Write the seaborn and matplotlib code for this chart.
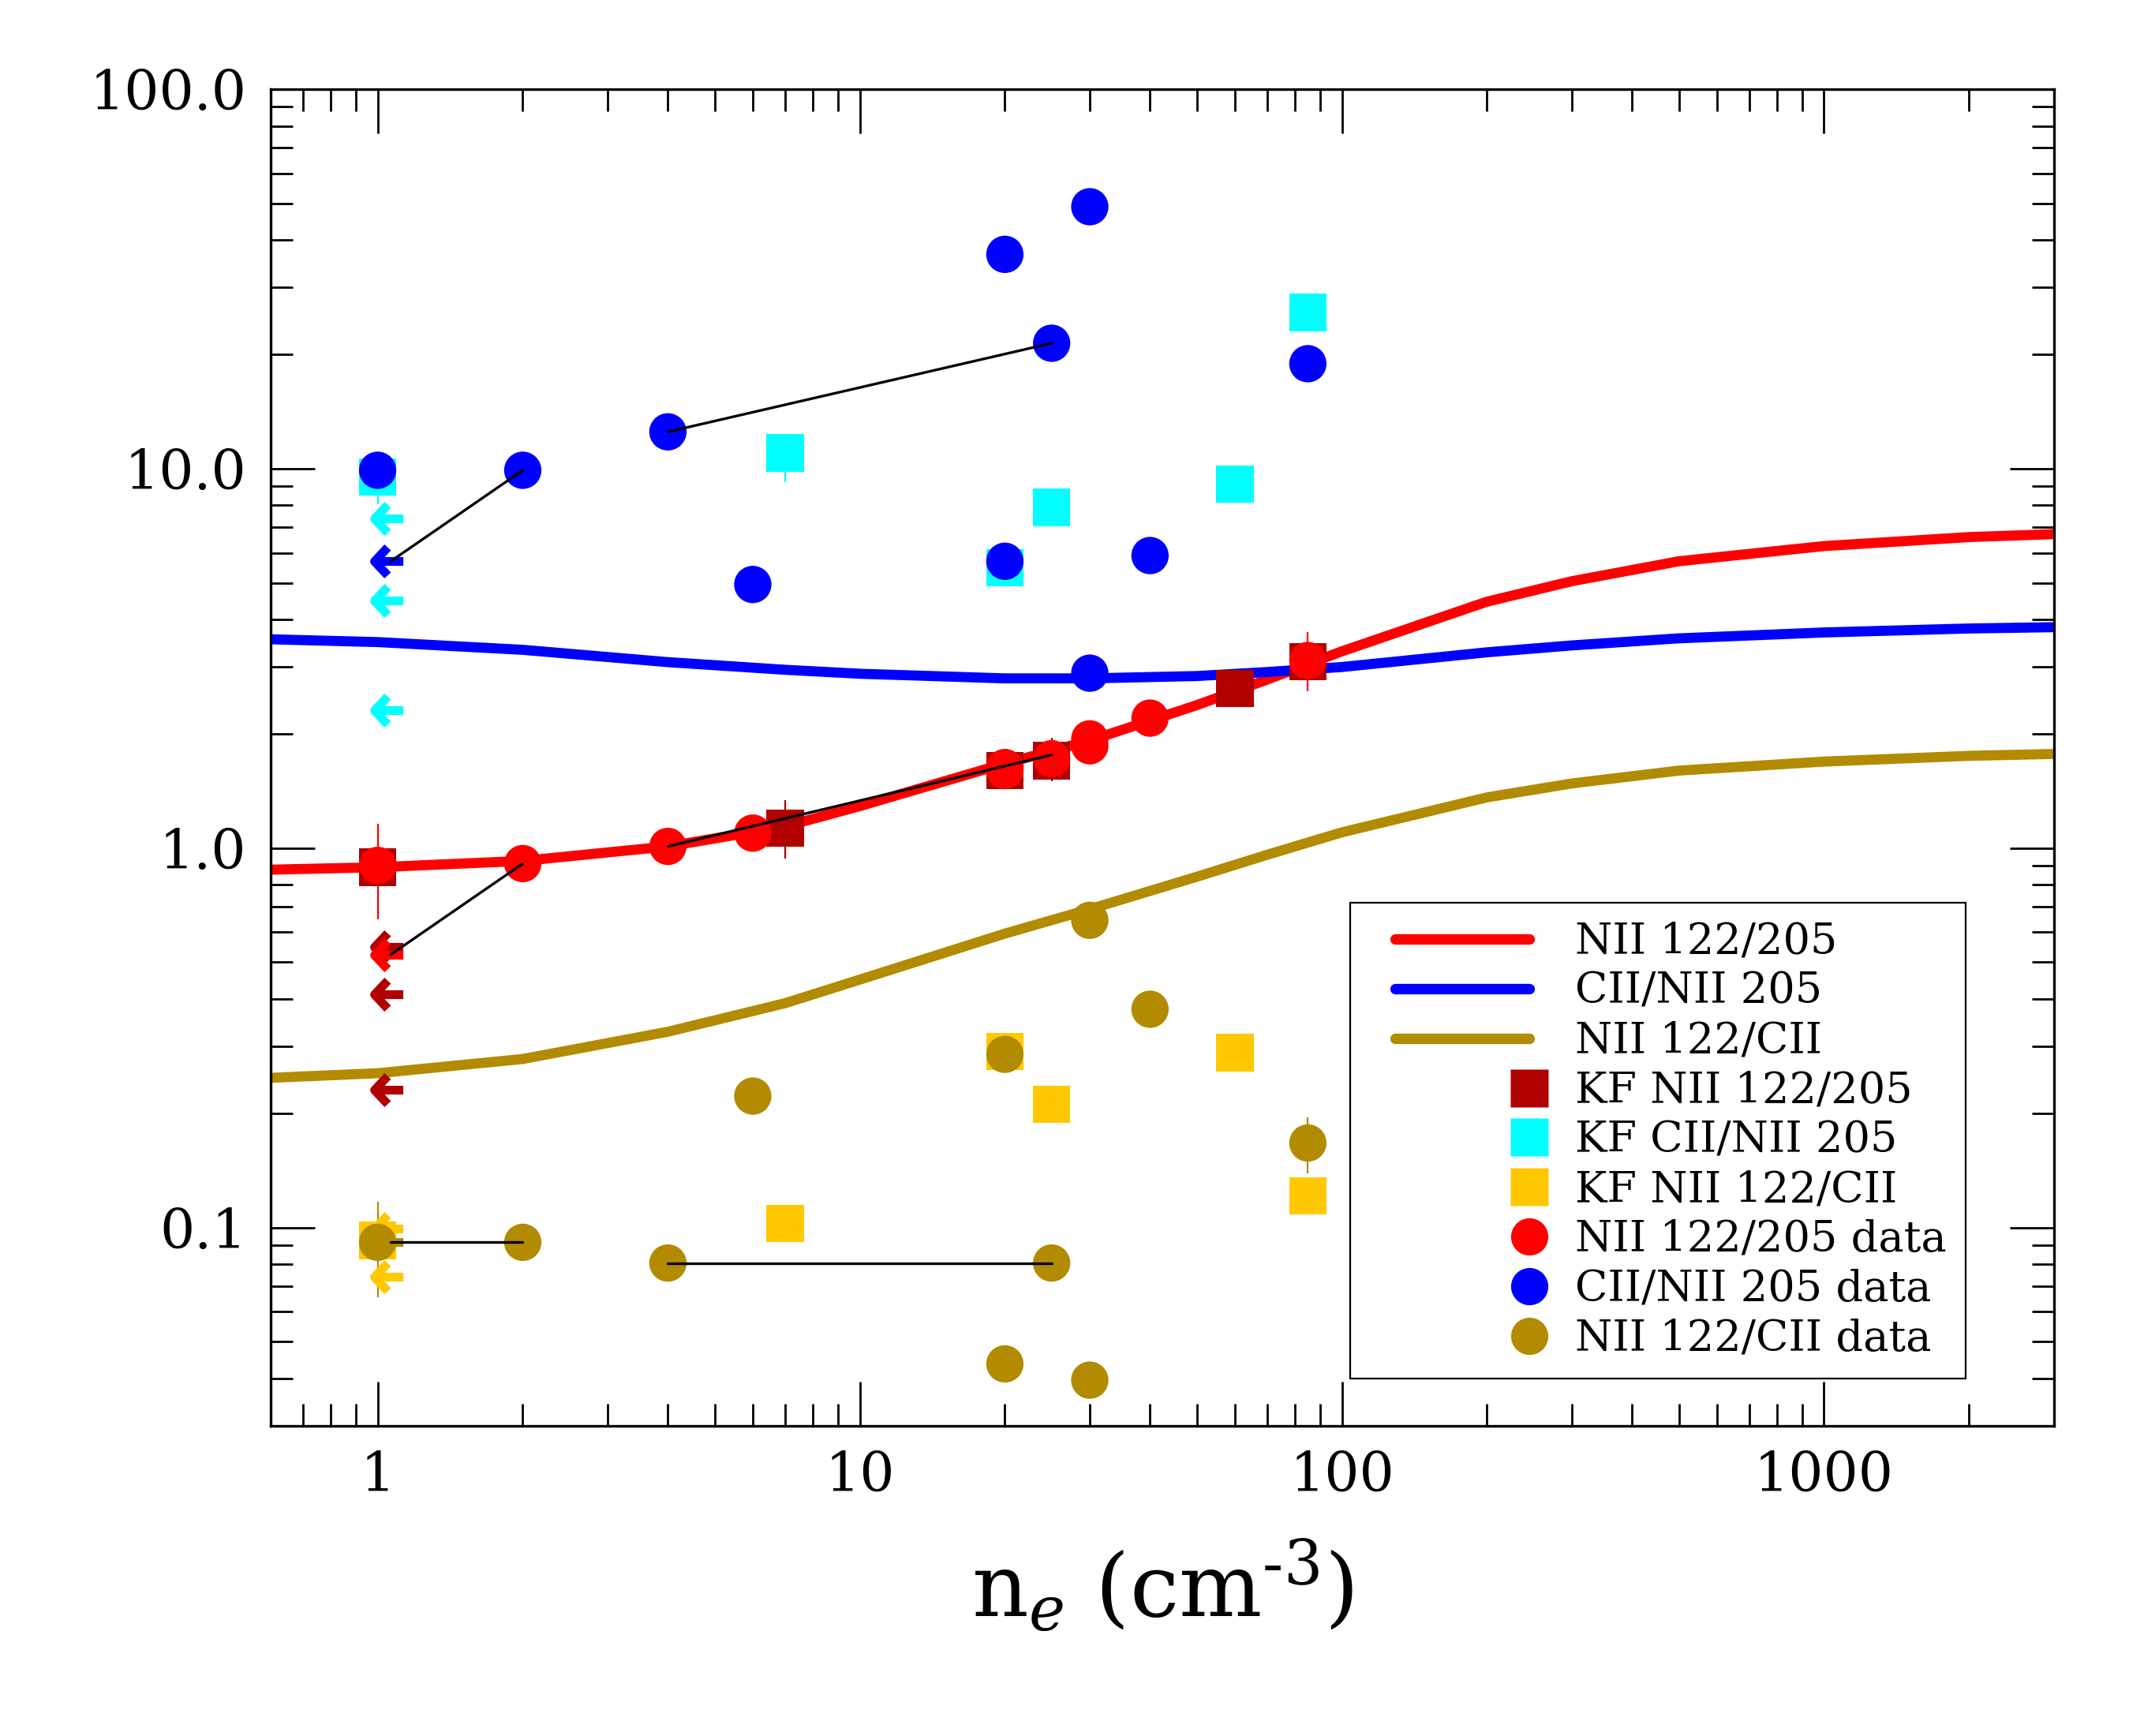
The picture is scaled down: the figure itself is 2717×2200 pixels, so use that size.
import numpy as np
import seaborn as sns
import matplotlib.pyplot as plt
from matplotlib.lines import Line2D
from matplotlib.path import Path
from matplotlib.legend_handler import HandlerLine2D
from matplotlib.ticker import FormatStrFormatter, NullFormatter

# model curves vs electron density
ne_model = [0.6, 1, 2, 4, 7, 10, 20, 30, 50, 70, 100, 200, 300, 500, 1000, 2000, 3000]
model_122_205 = [0.877, 0.89, 0.925, 1.01, 1.14, 1.29, 1.67, 1.92, 2.38, 2.78, 3.3, 4.46, 5.05, 5.7, 6.25, 6.6, 6.72]
model_cii_205 = [3.55, 3.49, 3.33, 3.09, 2.95, 2.88, 2.80, 2.80, 2.84, 2.91, 3.0, 3.28, 3.42, 3.57, 3.70, 3.79, 3.82]
model_122_cii = [0.248, 0.255, 0.278, 0.328, 0.39, 0.45, 0.595, 0.69, 0.84, 0.96, 1.10, 1.36, 1.48, 1.60, 1.69, 1.75, 1.77]

# KF measurements (squares)
kf_ne = [1, 7, 20, 25, 60, 85]
kf_122_205 = [0.89, 1.13, 1.60, 1.70, 2.63, 3.10]
kf_cii_205 = [9.5, 11.0, 5.47, 7.9, 9.1, 25.8]
kf_122_cii = [0.0924, 0.1026, 0.291, 0.211, 0.289, 0.121]
kf_122_205_lo = [np.nan, 0.94, np.nan, 1.50, np.nan, np.nan]
kf_122_205_hi = [np.nan, 1.34, np.nan, 1.95, np.nan, np.nan]
kf_cii_205_lo = [8.06, 9.2, np.nan, np.nan, np.nan, np.nan]
kf_cii_205_hi = [11.1, 11.8, np.nan, np.nan, np.nan, np.nan]

# data points (circles)
data_ne = [1, 2, 4, 6, 20, 20, 25, 30, 30, 40, 85]
data_122_205 = [0.90, 0.91, 1.01, 1.095, 1.60, 1.63, 1.72, 1.94, 1.86, 2.20, 3.12]
data_cii_205 = [9.9, 9.9, 12.5, 4.95, 36.7, 5.7, 21.4, 49.0, 2.89, 5.9, 18.9]
data_122_cii = [0.0914, 0.0914, 0.0806, 0.222, 0.0437, 0.286, 0.0806, 0.0396, 0.645, 0.376, 0.167]
data_122_205_lo = [0.65] + [np.nan] * 9 + [2.59]
data_122_205_hi = [1.16] + [np.nan] * 9 + [3.70]
data_122_cii_lo = [0.0656] + [np.nan] * 9 + [0.139]
data_122_cii_hi = [0.117] + [np.nan] * 9 + [0.195]

# upper limits (left arrows)
lim_ne = 1.065
kf_lim_cii_205 = [7.4, 4.5, 2.31]
kf_lim_122_205 = [0.548, 0.412, 0.231]
kf_lim_122_cii = [0.0995, 0.0742]
data_lim_cii_205 = [5.7]
data_lim_122_205 = [0.524]
data_lim_122_cii = [0.0914]

# black connectors
link_ne = [(lim_ne, 2), (4, 25)]
link_cii_205 = [(5.7, 9.9), (12.5, 21.4)]
link_122_205 = [(0.524, 0.91), (1.01, 1.76)]
link_122_cii = [(0.0914, 0.0914), (0.0806, 0.0806)]

RED, BLUE, OLIVE = "#ff0000", "#0000ff", "#b28b00"
DKRED, CYAN, YELLOW = "#b00000", "#00ffff", "#ffc800"

sns.set_style("ticks")
plt.rcParams['font.family'] = ['DejaVu Serif']
plt.rcParams['mathtext.fontset'] = 'dejavuserif'
for k in ['text.color', 'axes.labelcolor', 'xtick.color', 'ytick.color', 'axes.edgecolor']:
    plt.rcParams[k] = 'black'

fig, ax = plt.subplots(figsize=(2717 / 200, 11), dpi=200)
fig.subplots_adjust(left=343 / 2717, right=2603 / 2717, top=1 - 113 / 2200, bottom=1 - 1807 / 2200)
ax.set_xscale('log')
ax.set_yscale('log')

# model curves
for y, c in [(model_122_205, RED), (model_cii_205, BLUE), (model_122_cii, OLIVE)]:
    sns.lineplot(x=ne_model, y=y, color=c, linewidth=4.6, ax=ax, legend=False, zorder=2)


def errbars(x, lo, hi, c):
    x = np.asarray(x, float)
    lo = np.asarray(lo, float)
    hi = np.asarray(hi, float)
    m = ~np.isnan(lo)
    mid = np.sqrt(lo[m] * hi[m])
    ax.errorbar(x[m], mid, yerr=[mid - lo[m], hi[m] - mid], fmt='none',
                ecolor=c, elinewidth=0.8, capsize=0, zorder=2.5)


errbars(kf_ne, kf_122_205_lo, kf_122_205_hi, DKRED)
errbars(kf_ne, kf_cii_205_lo, kf_cii_205_hi, CYAN)
errbars(data_ne, data_122_205_lo, data_122_205_hi, RED)
errbars(data_ne, data_122_cii_lo, data_122_cii_hi, OLIVE)

# left-pointing arrow marker for upper limits
arrow = Path([(-0.2, 0.85), (-1, 0), (-0.2, -0.85), (-1, 0), (0.75, 0)],
             [Path.MOVETO, Path.LINETO, Path.LINETO, Path.MOVETO, Path.LINETO])


def limits(vals, c):
    ax.plot([lim_ne] * len(vals), vals, ls='none', marker=arrow, ms=15,
            mfc='none', mec=c, mew=4, zorder=3.5)


# KF squares
for y, c in [(kf_122_205, DKRED), (kf_cii_205, CYAN), (kf_122_cii, YELLOW)]:
    sns.scatterplot(x=kf_ne, y=y, marker='s', s=290, color=c, edgecolor='none',
                    linewidth=0, ax=ax, legend=False, zorder=3)
limits(kf_lim_cii_205, CYAN)
limits(kf_lim_122_205, DKRED)
limits(kf_lim_122_cii, YELLOW)

# data circles
for y, c in [(data_122_205, RED), (data_cii_205, BLUE), (data_122_cii, OLIVE)]:
    sns.scatterplot(x=data_ne, y=y, marker='o', s=290, color=c, edgecolor='none',
                    linewidth=0, ax=ax, legend=False, zorder=4)
limits(data_lim_cii_205, BLUE)
limits(data_lim_122_205, RED)
limits(data_lim_122_cii, OLIVE)

for xs, a, b, c in zip(link_ne, link_cii_205, link_122_205, link_122_cii):
    for ys in (a, b, c):
        ax.plot(xs, ys, color='black', lw=1.2, zorder=5)

ax.set_xlim(0.6, 3000)
ax.set_ylim(0.03, 100)
ax.yaxis.set_major_formatter(FormatStrFormatter('%.1f'))
ax.xaxis.set_major_formatter(FormatStrFormatter('%d'))
ax.xaxis.set_minor_formatter(NullFormatter())
ax.yaxis.set_minor_formatter(NullFormatter())
ax.tick_params(which='both', direction='in', top=True, right=True, labelsize=25, pad=11)
ax.tick_params(which='major', length=20, width=1.0)
ax.tick_params(which='minor', length=10, width=1.0)
for sp in ax.spines.values():
    sp.set_linewidth(1.2)

ax.set_xlabel(r'n$_e$ (cm$^{\text{-}3}$)', fontsize=40, labelpad=16)


class SpanHandler(HandlerLine2D):
    # line / marker drawn over [f0, f1] of the handle box (marker sits in the middle)
    def __init__(self, f0, f1, **kw):
        super().__init__(**kw)
        self.f0, self.f1 = f0, f1

    def get_xdata(self, legend, xdescent, ydescent, width, height, fontsize):
        xs = np.array([-xdescent + self.f0 * width, -xdescent + self.f1 * width])
        return xs, np.array([xs.mean()])


line_h = [Line2D([], [], color=c, lw=4.8) for c in (RED, BLUE, OLIVE)]
mark_h = [Line2D([], [], ls='none', marker=m, ms=17, mfc=c, mec='none')
          for m, c in [('s', DKRED), ('s', CYAN), ('s', YELLOW), ('o', RED), ('o', BLUE), ('o', OLIVE)]]
hmap = {h: SpanHandler(0.16, 1.0) for h in line_h}
hmap.update({h: SpanHandler(0.95, 1.05) for h in mark_h})
labels = ['NII 122/205', 'CII/NII 205', 'NII 122/CII', 'KF NII 122/205', 'KF CII/NII 205',
          'KF NII 122/CII', 'NII 122/205 data', 'CII/NII 205 data', 'NII 122/CII data']
leg = ax.legend(line_h + mark_h, labels, loc='lower left',
                bbox_to_anchor=((1711 - 343) / 2260, 60 / 1694),
                borderaxespad=0, fontsize=19.5, frameon=True, fancybox=False, framealpha=1,
                edgecolor='black', borderpad=0.45, handlelength=3.74, handletextpad=1.07,
                labelspacing=0.2, handler_map=hmap)
leg.get_frame().set_linewidth(0.8)

fig.savefig('out.png', dpi=200)
